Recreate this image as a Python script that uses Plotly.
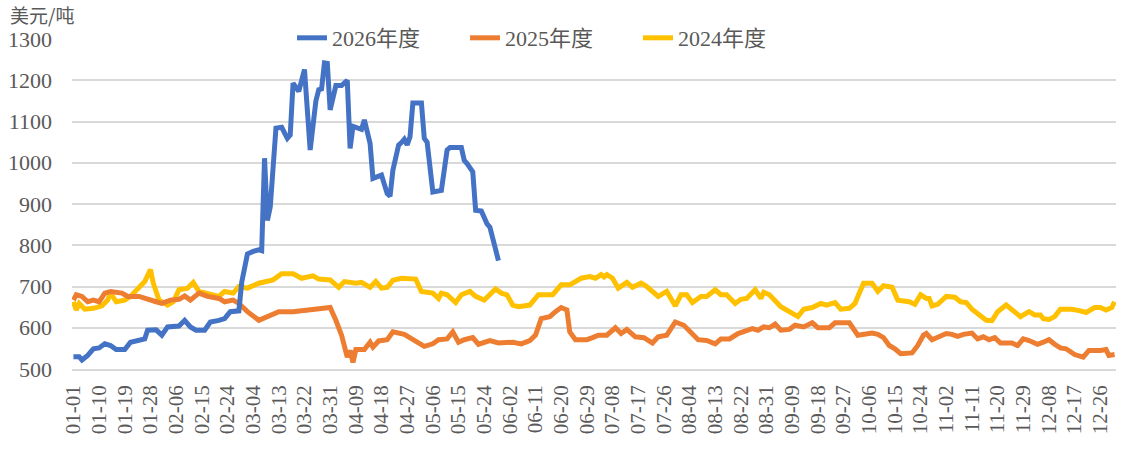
import plotly.graph_objects as go
import pandas as pd

# ---- categories (MM-DD over a 366-day calendar) ----
categories = [d.strftime("%m-%d") for d in pd.date_range("2024-01-01", "2024-12-31", freq="D")]
tick_labels = categories[::9]

# ---- 2026年度 ----
x_2026 = ["01-01","01-03","01-04","01-06","01-08","01-10","01-12","01-14","01-16","01-19",
          "01-21","01-24","01-26","01-27","01-30","02-01","02-03","02-07","02-09","02-11",
          "02-13","02-16","02-18","02-21","02-23","02-25","02-28","02-29","03-02","03-04",
          "03-06","03-07","03-08","03-09","03-10","03-12","03-14","03-16","03-17","03-18",
          "03-20","03-22","03-24","03-26","03-27","03-28","03-29","03-30","03-31","04-02",
          "04-04","04-06","04-07","04-08","04-11","04-12","04-14","04-15","04-18","04-20",
          "04-21","04-22","04-24","04-25","04-26","04-27","04-28","04-29","05-02","05-03",
          "05-04","05-06","05-09","05-11","05-12","05-16","05-17","05-18","05-20","05-21",
          "05-23","05-25","05-26","05-29"]
y_2026 = [530,530,522,533,549,551,561,557,547,547,
          565,568,573,594,595,582,602,604,618,602,
          594,594,614,618,622,639,641,710,779,785,
          789,787,1011,860,893,1084,1086,1059,1067,1193,
          1173,1226,1031,1150,1177,1179,1242,1241,1128,1187,
          1187,1200,1035,1088,1081,1104,1047,962,970,925,
          919,982,1043,1049,1057,1043,1063,1145,1145,1059,
          1050,929,933,1031,1037,1037,1006,998,978,885,
          883,852,844,763]

# ---- 2025年度 ----
x_2025 = ["01-01","01-02","01-04","01-06","01-08","01-10","01-12","01-14","01-18","01-20",
          "01-24","01-27","01-30","02-01","02-04","02-07","02-09","02-11","02-14","02-17",
          "02-21","02-23","02-26","02-28","03-02","03-06","03-09","03-13","03-18","03-22",
          "03-27","03-31","04-02","04-04","04-06","04-07","04-08","04-09","04-12","04-14",
          "04-15","04-17","04-20","04-22","04-26","04-29","05-03","05-06","05-08","05-11",
          "05-13","05-15","05-17","05-20","05-22","05-26","05-29","06-03","06-06","06-09",
          "06-11","06-13","06-16","06-18","06-20","06-22","06-23","06-25","06-29","07-01",
          "07-03","07-06","07-09","07-11","07-13","07-16","07-19","07-22","07-24","07-27",
          "07-30","08-02","08-05","08-07","08-10","08-13","08-15","08-18","08-21","08-23",
          "08-26","08-28","08-30","09-01","09-03","09-05","09-08","09-10","09-13","09-16",
          "09-18","09-22","09-24","09-29","10-02","10-07","10-09","10-11","10-13","10-15",
          "10-17","10-21","10-23","10-25","10-26","10-28","10-30","11-02","11-04","11-06",
          "11-08","11-11","11-13","11-15","11-17","11-19","11-21","11-25","11-27","11-29",
          "12-01","12-04","12-06","12-08","12-10","12-12","12-14","12-17","12-20","12-22",
          "12-26","12-28","12-29","12-31"]
y_2025 = [667,680,676,663,667,663,684,688,684,676,
          676,671,663,659,667,669,677,667,684,676,
          671,663,667,659,639,618,627,639,639,643,
          647,649,618,582,529,545,516,547,547,565,
          553,568,571,590,584,571,555,561,571,573,
          590,565,571,576,560,569,563,565,561,569,
          582,622,627,639,649,643,590,571,571,576,
          582,582,600,586,596,578,576,563,578,582,
          614,606,586,571,569,561,573,573,586,590,
          598,594,602,600,609,594,596,606,602,612,
          600,600,612,612,582,587,584,576,557,549,
          537,539,557,582,586,571,578,586,584,579,
          584,587,573,578,571,576,563,563,557,573,
          569,560,565,571,560,551,549,535,529,545,
          545,547,533,535]

# ---- 2024年度 ----
x_2024 = ["01-01","01-02","01-03","01-05","01-08","01-11","01-13","01-14","01-16","01-19",
          "01-21","01-24","01-26","01-28","01-29","01-31","02-03","02-05","02-07","02-10",
          "02-12","02-14","02-17","02-21","02-23","02-26","02-28","03-02","03-06","03-11",
          "03-14","03-18","03-21","03-25","03-27","03-31","04-03","04-05","04-09","04-11",
          "04-14","04-16","04-18","04-20","04-22","04-25","04-30","05-02","05-06","05-08",
          "05-09","05-11","05-14","05-16","05-19","05-21","05-24","05-26","05-28","05-30",
          "06-01","06-03","06-05","06-09","06-12","06-17","06-20","06-23","06-25","06-27",
          "06-30","07-02","07-04","07-05","07-06","07-08","07-10","07-13","07-15","07-18",
          "07-20","07-24","07-27","07-30","08-01","08-03","08-05","08-08","08-10","08-13",
          "08-15","08-17","08-20","08-22","08-24","08-27","08-29","08-30","09-01","09-05",
          "09-07","09-09","09-11","09-13","09-16","09-19","09-21","09-24","09-26","09-29",
          "10-01","10-02","10-04","10-07","10-09","10-11","10-14","10-16","10-20","10-22",
          "10-24","10-26","10-27","10-28","10-30","11-02","11-05","11-07","11-09","11-11",
          "11-14","11-16","11-18","11-20","11-23","11-25","11-28","12-01","12-03","12-05",
          "12-06","12-08","12-10","12-12","12-16","12-19","12-21","12-24","12-26","12-28",
          "12-30","12-31"]
y_2024 = [663,643,659,645,647,653,667,684,663,667,
          676,696,712,741,708,667,655,663,692,696,
          710,688,684,676,688,684,700,696,708,716,
          731,731,720,726,718,716,698,712,708,710,
          698,712,696,698,715,720,718,688,684,671,
          684,680,661,680,688,676,667,680,694,684,
          680,655,651,655,680,680,704,704,712,720,
          724,720,729,723,729,720,696,710,698,708,
          700,676,688,653,680,680,661,676,676,692,
          680,680,659,669,671,692,671,686,680,651,
          643,635,627,645,649,659,655,661,645,647,
          659,676,708,708,688,702,698,667,663,657,
          680,671,671,653,657,676,674,663,661,645,
          627,618,617,639,655,643,627,639,631,631,
          622,620,627,645,645,641,637,649,649,643,
          649,663]

series_names = ["2026年度", "2025年度", "2024年度"]
series_colors = ["#4472C4", "#ED7D31", "#FFC000"]

SERIF = "Liberation Serif, 'Times New Roman', 'Noto Sans CJK SC', serif"

fig = go.Figure()
# draw order: yellow behind orange behind blue
for name, xs, ys, col, rank in [(series_names[2], x_2024, y_2024, series_colors[2], 3),
                                (series_names[1], x_2025, y_2025, series_colors[1], 2),
                                (series_names[0], x_2026, y_2026, series_colors[0], 1)]:
    fig.add_trace(go.Scatter(x=xs, y=ys, mode="lines", name=name, legendrank=rank,
                             line=dict(color=col, width=5)))

fig.update_layout(
    width=1124, height=451,
    margin=dict(l=72, r=8, t=39, b=82),
    paper_bgcolor="white", plot_bgcolor="white",
    font=dict(family=SERIF, color="#595959", size=20),
    showlegend=True,
    legend=dict(orientation="h", x=(292 - 72) / 1044, xanchor="left", y=1.003, yanchor="middle",
                bgcolor="rgba(0,0,0,0)", font=dict(size=22, color="#595959"),
                entrywidth=128, entrywidthmode="pixels", traceorder="normal"),
    xaxis=dict(type="category", categoryorder="array", categoryarray=categories,
               range=[-0.5, len(categories) - 0.5],
               tickmode="array", tickvals=tick_labels, ticktext=tick_labels,
               tickangle=-90, tickfont=dict(size=21, color="#595959"),
               showgrid=False, showline=True, linecolor="#D9D9D9", linewidth=1.5,
               ticks="", ticklabelstandoff=6, zeroline=False),
    yaxis=dict(range=[500, 1300], tickmode="array",
               tickvals=[500, 600, 700, 800, 900, 1000, 1100, 1200, 1300],
               tickfont=dict(size=22, color="#595959"),
               showgrid=True, gridcolor="#D9D9D9", gridwidth=1.5,
               zeroline=False, showline=False, ticks="", ticklabelstandoff=19),
    annotations=[dict(text="美元/吨", xref="paper", yref="paper",
                      x=-64 / 1044, y=(369 - 14) / 330, xanchor="left", yanchor="middle",
                      showarrow=False, font=dict(size=19, color="#595959",
                                                 family="'Noto Sans CJK SC', sans-serif"))],
)

fig.write_html("out.html")
